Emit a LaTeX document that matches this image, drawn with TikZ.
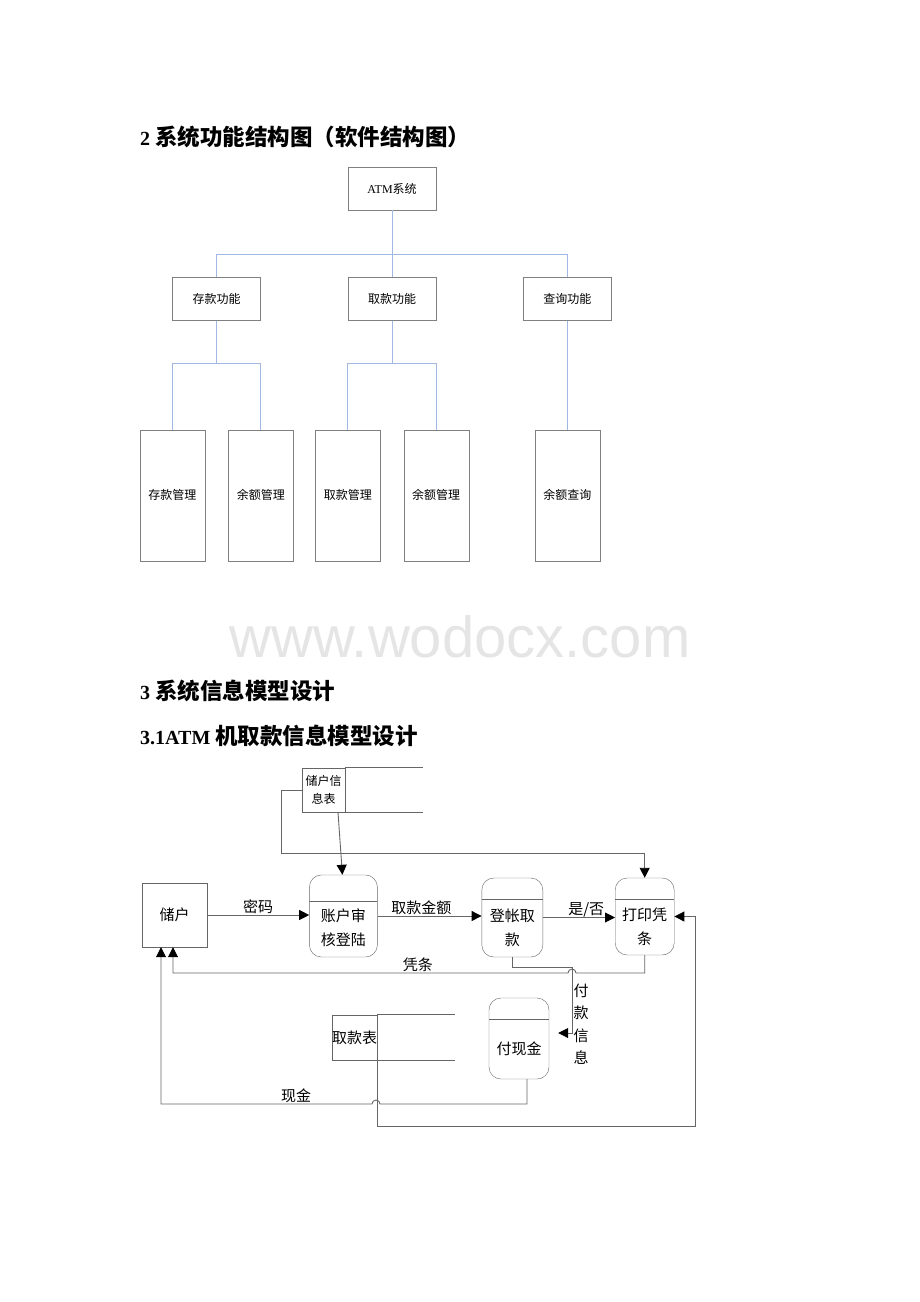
\documentclass[tikz,border=0pt]{standalone}
\usepackage{fontspec}
\setmainfont{Liberation Serif}
\newfontfamily\cjk{Noto Sans CJK SC}
\newfontfamily\wmfont{Liberation Sans}
\usepackage{tikz}
\usetikzlibrary{arrows.meta, positioning, calc}

\definecolor{treeblue}{RGB}{160,184,226}
\newcommand{\zh}[1]{{\cjk\fontsize{22.5}{26}\selectfont #1}}

\begin{document}
\begin{tikzpicture}
  [x=1pt, y=-1pt,
    > = {Triangle[length=10pt, width=10pt, color=black]},
    block/.style ={
        rectangle,
        draw=black!50,
        inner sep=0pt,
        minimum width=88pt,
        minimum height=43pt,
        font=\cjk\fontsize{12}{15}\selectfont,
      },
    leaf/.style ={block, minimum width=65pt, minimum height=131pt},
    branch/.style ={draw=treeblue, line width=1pt},
    heading/.style ={anchor=west, inner sep=0pt, font=\fontsize{20}{24}\selectfont\bfseries},
    ext/.style ={rectangle, draw=black!60, inner sep=0pt, font=\cjk\fontsize{15}{24}\selectfont},
    proc/.style ={
        rectangle,
        draw=black!60,
        rounded corners=12pt,
        path picture={\draw[black!60] ([yshift=-#1]path picture bounding box.north west) -- ([yshift=-#1]path picture bounding box.north east);},
      },
    proc/.default=21pt,
    ptext/.style ={align=center, inner sep=0pt, font=\cjk\fontsize{15}{24}\selectfont},
    store/.style ={rectangle, draw=black!60, inner sep=0pt, align=center, minimum width=43pt, minimum height=44pt},
    flow/.style ={draw=black!60, line width=0.9pt},
    lbl/.style ={inner sep=1pt, font=\cjk\fontsize{15}{22.5}\selectfont},
  ]
  \useasboundingbox (0,0) rectangle (920,1302);

  \node[heading] (sec2) at (140,137) {2 \zh{系统功能结构图（软件结构图）}};
  \node[anchor=base, inner sep=0pt, text=black!10, font=\wmfont\fontsize{58}{58}\selectfont] (mark) at (460,657) {www.wodocx.com};
  \node[heading] (sec3) at (140,691) {3 \zh{系统信息模型设计}};
  \node[heading] (sec31) at (140,736) {3.1ATM \zh{机取款信息模型设计}};

  % structure chart
  \node[block] (atm) at (392,188.5) {{\rmfamily ATM}系统};
  \node[block, below=67pt of atm] (withdraw) {取款功能};
  \node[block, left=87pt of withdraw] (deposit) {存款功能};
  \node[block, right=87pt of withdraw] (query) {查询功能};

  \node[leaf, below=109pt of deposit.south west] (depmgmt) {存款管理};
  \node[leaf, below=109pt of deposit.south east] (depbal) {余额管理};
  \node[leaf, below=109pt of withdraw.south west] (wdmgmt) {取款管理};
  \node[leaf, below=109pt of withdraw.south east] (wdbal) {余额管理};
  \node[leaf, below=109pt of query] (qrybal) {余额查询};

  \draw[branch] (atm.south) -- ++(0,44) -| (deposit.north);
  \draw[branch] (atm.south) -- (withdraw.north);
  \draw[branch] (atm.south) -- ++(0,44) -| (query.north);
  \draw[branch] (deposit.south) -- ++(0,43) -| (depmgmt.north);
  \draw[branch] (deposit.south) -- ++(0,43) -| (depbal.north);
  \draw[branch] (withdraw.south) -- ++(0,43) -| (wdmgmt.north);
  \draw[branch] (withdraw.south) -- ++(0,43) -| (wdbal.north);
  \draw[branch] (query.south) -- (qrybal.north);

  % data flow
  \node[ext, minimum width=65pt, minimum height=64pt] (saver) at (174.5,915) {储户};
  \node[proc=26pt, minimum width=68pt, minimum height=82pt, right=102pt of saver, yshift=-1pt] (audit) {};
  \node[proc, minimum width=61pt, minimum height=79pt, right=104pt of audit, yshift=-1.5pt] (post) {};
  \node[proc, minimum width=59pt, minimum height=77pt, right=72pt of post, yshift=1pt] (print) {};
  \node[proc, minimum width=60pt, minimum height=81pt] (pay) at (519,1038.5) {};

  \node[ptext] (audit-t) at ([yshift=-12pt]audit.center) {账户审\\核登陆};
  \node[ptext] (post-t) at ([yshift=-10pt]post.center) {登帐取\\款};
  \node[ptext] (print-t) at ([yshift=-10.5pt]print.center) {打印凭\\条};
  \node[ptext] (pay-t) at ([yshift=-10.5pt]pay.center) {付现金};

  \node[store, font=\cjk\fontsize{12}{18}\selectfont] (ustore) at (323.5,790) {储户信\\息表};
  \node[store, minimum height=45pt, font=\cjk\fontsize{15}{18}\selectfont] (wstore) at (354.5,1037.5) {取款表};
  \draw[flow] (ustore.north east) -- ++(78,0);
  \draw[flow] (ustore.south east) -- ++(78,0);
  \draw[flow] (wstore.north east) -- ++(78,0);
  \draw[flow] (wstore.south east) -- ++(78,0);

  \coordinate (bend) at (572,967);
  \coordinate (hop1) at (572,973);
  \coordinate (hop2) at (376,1104);

  \draw[flow, ->] (saver.east) -- node[lbl, above] (pwd) {密码} (saver.east -| audit.west);
  \draw[flow, ->] (audit.east) -- node[lbl, above, pos=0.42] (amount) {取款金额} (audit.east -| post.west);
  \draw[flow, ->] (post.east) -- node[lbl, above, pos=0.6, inner sep=0pt] (yesno) {是/否} (post.east -| print.west);
  \draw[flow, ->] (print.south) |- ([xshift=4pt]hop1) arc[start angle=0, end angle=180, radius=4pt]
    -| node[lbl, above, pos=0.19] (slip) {凭条} ([xshift=-1.5pt]saver.south);
  \draw[flow, ->] (post.south) |- (bend) |- ([xshift=9pt, yshift=5.5pt]pay.east);
  \node[lbl, align=center] (payinfo) at (581,1024) {付\\款\\信\\息};
  \draw[flow, ->] ([xshift=8pt]pay.south) |- ([xshift=4pt]hop2) arc[start angle=0, end angle=180, radius=4pt]
    -| node[lbl, above, pos=0.18] (cash) {现金} ([xshift=-13.5pt]saver.south);
  \draw[flow, ->] (wstore.south east) -- ++(0,66) -| ([xshift=21pt]print.east) -- (print.east);
  \draw[flow, ->] (ustore.west) -| ++(-20,63) -| (print.north);
  \draw[flow, ->] ([xshift=14.5pt]ustore.south) -- ([xshift=-1pt]audit.north);
\end{tikzpicture}
\end{document}
